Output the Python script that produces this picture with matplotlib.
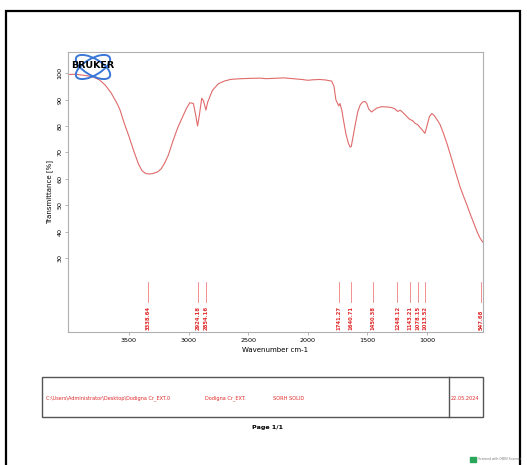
import matplotlib
matplotlib.use("Agg")
import matplotlib.pyplot as plt
from matplotlib.patches import Rectangle, Ellipse

wavenumber = [4000, 3950, 3900, 3850, 3800, 3750, 3700, 3650, 3600, 3575, 3540, 3500,
              3460, 3420, 3390, 3360, 3330, 3300, 3260, 3230, 3200, 3170, 3130, 3090,
              3055, 3020, 2990, 2960, 2940, 2925, 2910, 2890, 2875, 2855, 2840, 2800,
              2750, 2700, 2650, 2600, 2500, 2400, 2350, 2300, 2200, 2100, 2050, 2000,
              1950, 1900, 1850, 1800, 1780, 1765, 1750, 1740, 1730, 1715, 1700, 1680,
              1660, 1645, 1635, 1620, 1600, 1580, 1560, 1540, 1520, 1505, 1490, 1465,
              1445, 1420, 1380, 1340, 1300, 1270, 1245, 1225, 1200, 1170, 1145, 1120,
              1100, 1078, 1060, 1040, 1017, 1000, 980, 960, 940, 910, 890, 860, 830,
              807, 780, 750, 723, 690, 660, 640, 610, 580, 560, 543, 530]
transmittance = [99.5, 99.6, 99.3, 99.0, 98.5, 97.5, 95.5, 92.5, 88.5, 86.0, 81.0, 76.0,
                 70.5, 65.5, 63.0, 62.0, 61.8, 62.0, 62.6, 63.8, 66.0, 69.0, 74.5, 79.5,
                 83.0, 86.5, 88.8, 88.5, 84.0, 80.0, 84.0, 90.5, 89.5, 86.0, 89.0, 93.5,
                 96.0, 97.0, 97.6, 97.8, 98.0, 98.1, 97.9, 98.0, 98.2, 97.8, 97.6, 97.3,
                 97.5, 97.6, 97.4, 97.0, 95.0, 90.0, 88.5, 87.6, 88.5, 86.0, 82.0, 77.0,
                 73.5, 72.0, 72.3, 76.0, 81.0, 85.5, 88.0, 89.0, 89.3, 88.5, 86.5, 85.3,
                 86.0, 86.8, 87.3, 87.2, 87.0, 86.5, 85.5, 86.0, 85.0, 83.6, 82.5, 82.0,
                 81.0, 80.5, 79.5, 78.5, 77.2, 80.0, 83.5, 84.7, 84.0, 82.0, 80.5, 77.0,
                 73.0, 69.6, 65.5, 61.0, 57.0, 53.0, 49.5, 47.0, 43.5, 40.0, 38.0, 36.7, 36.0]

peaks = [3338.64, 2924.18, 2854.16, 1741.27, 1640.71, 1450.38, 1248.12,
         1143.21, 1078.15, 1013.52, 547.68]
x_ticks = [3500, 3000, 2500, 2000, 1500, 1000]
y_ticks = [30, 40, 50, 60, 70, 80, 90, 100]

W, H = 527, 465
fig = plt.figure(figsize=(W / 100, H / 100), dpi=100)

def fx(px):
    return px / W

def fy(py):
    return 1 - py / H

# outer page frame
fig.patches.append(Rectangle((fx(6), fy(470)), fx(520) - fx(6), fy(11) - fy(470),
                             transform=fig.transFigure, fill=False, lw=1.6,
                             edgecolor='black'))

ax = fig.add_axes([fx(68), fy(332), fx(483) - fx(68), fy(52) - fy(332)])
ax.plot(wavenumber, transmittance, color='#e06a6a', lw=0.8)
ax.set_xlim(4012, 530)
ax.set_ylim(2, 108)

red = '#e02828'
for p in peaks:
    ax.plot([p, p], [13.2, 20.8], color='#f08080', lw=0.6)
    ax.text(p, 2.8, f"{p:.2f}", rotation=90, ha='center', va='bottom',
            fontsize=3.8, color=red, fontweight='bold')

ax.set_xticks(x_ticks)
ax.set_xticklabels([str(t) for t in x_ticks], fontsize=4.6)
ax.set_yticks(y_ticks)
ax.set_yticklabels([str(t) for t in y_ticks], fontsize=4.6, rotation=90, va='center')
ax.tick_params(length=2, width=0.5, color='#999999', pad=2)
for s in ax.spines.values():
    s.set_color('#b0b0b0')
    s.set_linewidth(0.8)
ax.set_xlabel('Wavenumber cm-1', fontsize=5, labelpad=3)
ax.set_ylabel('Transmittance [%]', fontsize=5, labelpad=3)

# Bruker logo
for ang in (35, -35):
    fig.patches.append(Ellipse((fx(93), fy(67)), fx(40), 16 / H, angle=ang,
                               transform=fig.transFigure, fill=False,
                               edgecolor='#3a78d8', lw=1.4))
fig.text(fx(93), fy(66), 'BRUKER', ha='center', va='center', fontsize=6.8,
         fontweight='bold', color='black')

# info box
fig.patches.append(Rectangle((fx(42), fy(417)), fx(483) - fx(42), fy(377) - fy(417),
                             transform=fig.transFigure, fill=False, lw=1.0,
                             edgecolor='#555555'))
fig.lines.append(plt.Line2D([fx(449), fx(449)], [fy(417), fy(377)],
                            transform=fig.transFigure, color='#555555', lw=1.0))
fig.text(fx(46), fy(398), r'C:\Users\Administrator\Desktop\Dodigna Cr_EXT.0',
         fontsize=3.6, color=red, va='center')
fig.text(fx(205), fy(398), 'Dodigna Cr_EXT.', fontsize=3.6, color=red, va='center')
fig.text(fx(273), fy(398), 'SORH SOLID', fontsize=3.6, color=red, va='center')
fig.text(fx(451), fy(398), '22.05.2024', fontsize=3.6, color=red, va='center')
fig.text(fx(268), fy(427), 'Page 1/1', fontsize=4.6, fontweight='bold',
         ha='center', va='center')

# scanner mark
fig.patches.append(Rectangle((fx(470), fy(462)), fx(6), 5 / H,
                             transform=fig.transFigure, color='#2aa55a'))
fig.text(fx(478), fy(459), 'Scanned with OKEN Scanner', fontsize=2.2,
         color='#777777', va='center')

fig.savefig('out.png', dpi=100)
